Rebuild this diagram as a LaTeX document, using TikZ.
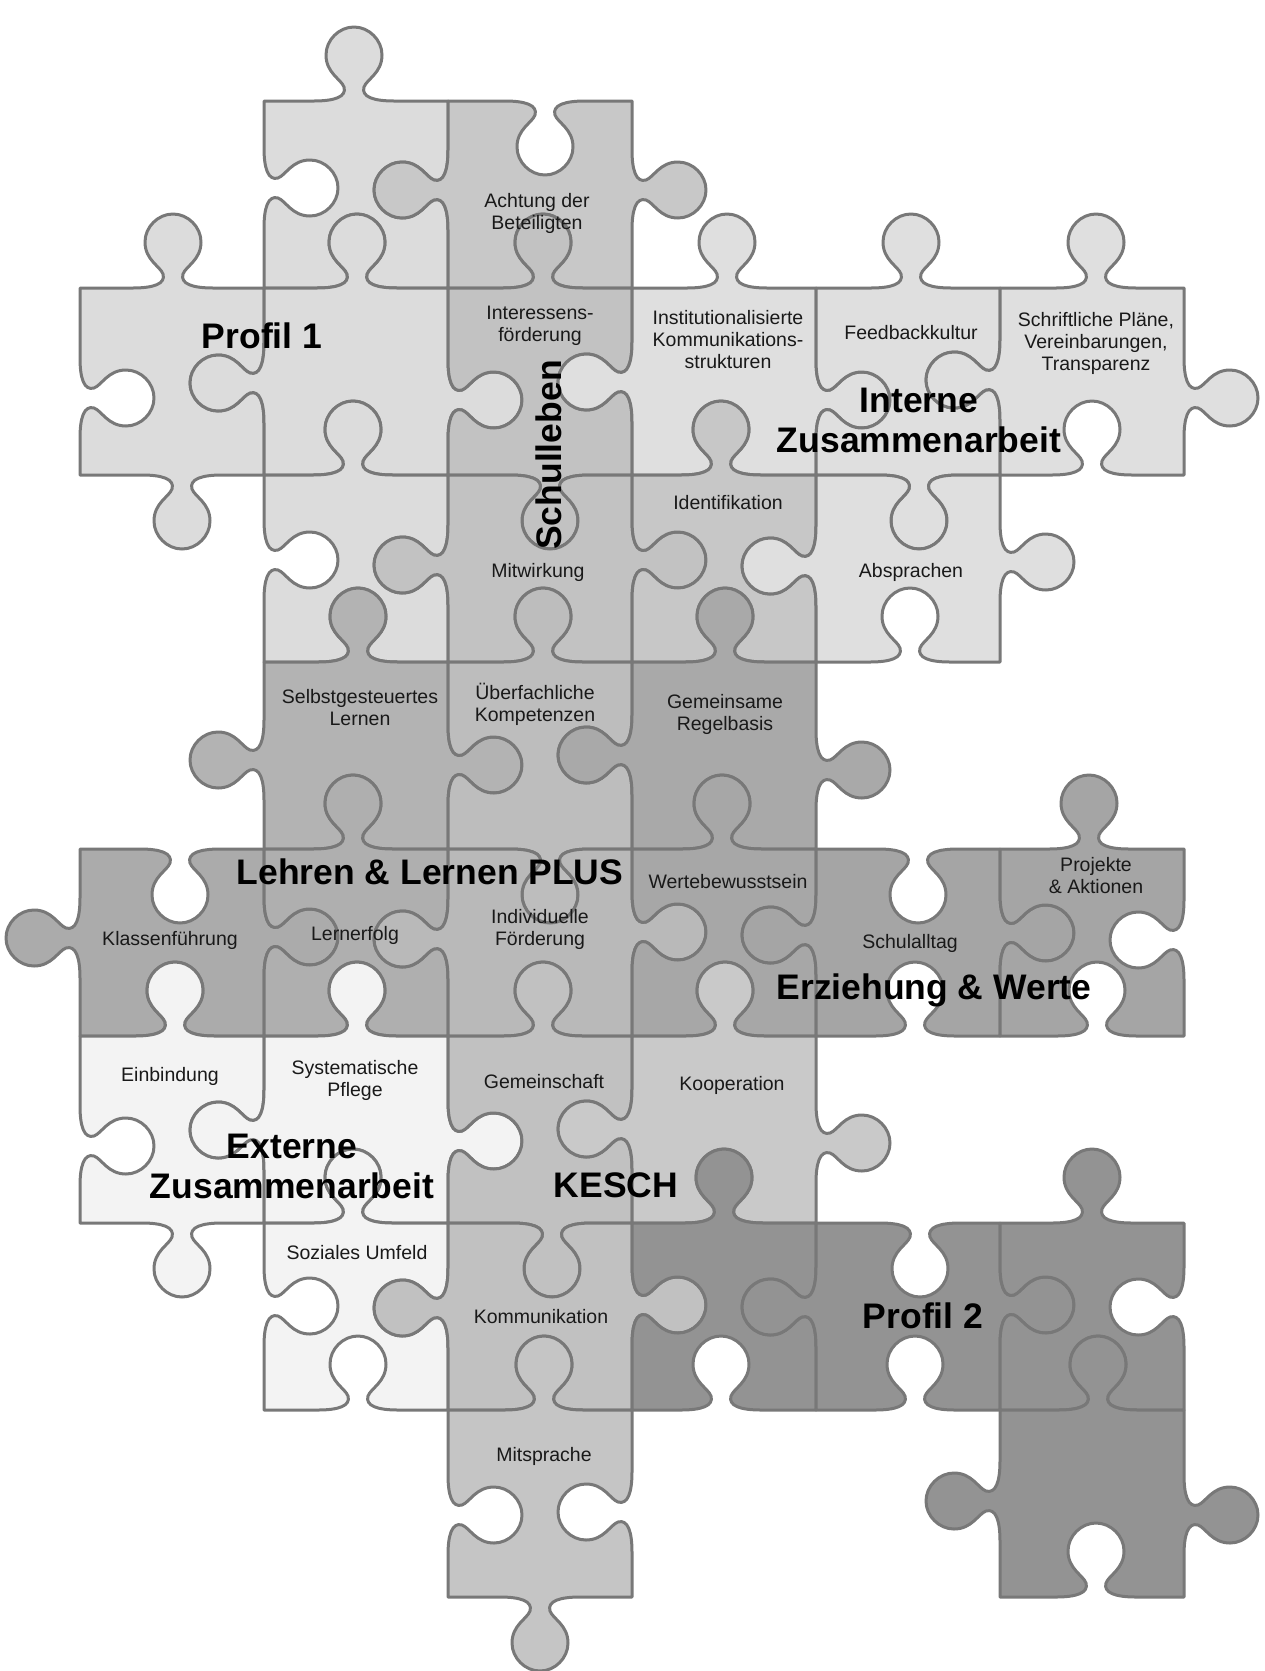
\documentclass[tikz,border=0pt]{standalone}
\usepackage{fontspec}
\setmainfont{Liberation Sans}
\definecolor{cPa}{HTML}{DCDCDC}
\definecolor{cAch}{HTML}{C8C8C8}
\definecolor{cSch}{HTML}{C2C2C2}
\definecolor{cInt}{HTML}{DFDFDF}
\definecolor{cIde}{HTML}{C7C7C7}
\definecolor{cSel}{HTML}{B3B3B3}
\definecolor{cUeb}{HTML}{BDBDBD}
\definecolor{cGem}{HTML}{A9A9A9}
\definecolor{cKla}{HTML}{ABABAB}
\definecolor{cLer}{HTML}{AFAFAF}
\definecolor{cInd}{HTML}{B9B9B9}
\definecolor{cWer}{HTML}{A7A7A7}
\definecolor{cSa}{HTML}{A5A5A5}
\definecolor{cExt}{HTML}{F3F3F3}
\definecolor{cKg}{HTML}{C1C1C1}
\definecolor{cKoo}{HTML}{C9C9C9}
\definecolor{cMit}{HTML}{C5C5C5}
\definecolor{cPb}{HTML}{939393}
\definecolor{cLine}{HTML}{787878}
% horizontal edge knob: #1 centre x, #2 edge y, #3 travel (+1 right,-1 left), #4 bump (-1 up,+1 down)
\newcommand\hTab[4]{-- ({#1-40*(#3)},{#2}) .. controls ({#1-20*(#3)},{#2}) and ({#1-7*(#3)},{#2+4*(#4)}) .. ({#1-10*(#3)},{#2+14*(#4)}) .. controls ({#1-13*(#3)},{#2+22*(#4)}) and ({#1-28*(#3)},{#2+28*(#4)}) .. ({#1-28*(#3)},{#2+46*(#4)}) .. controls ({#1-28*(#3)},{#2+61*(#4)}) and ({#1-15*(#3)},{#2+74*(#4)}) .. ({#1},{#2+74*(#4)}) .. controls ({#1+15*(#3)},{#2+74*(#4)}) and ({#1+28*(#3)},{#2+61*(#4)}) .. ({#1+28*(#3)},{#2+46*(#4)}) .. controls ({#1+28*(#3)},{#2+28*(#4)}) and ({#1+13*(#3)},{#2+22*(#4)}) .. ({#1+10*(#3)},{#2+14*(#4)}) .. controls ({#1+7*(#3)},{#2+4*(#4)}) and ({#1+20*(#3)},{#2}) .. ({#1+40*(#3)},{#2}) }
% vertical edge knob: #1 centre y, #2 edge x, #3 travel (+1 down,-1 up), #4 bump (+1 right,-1 left)
\newcommand\vTab[4]{-- ({#2},{#1-40*(#3)}) .. controls ({#2},{#1-20*(#3)}) and ({#2+4*(#4)},{#1-7*(#3)}) .. ({#2+14*(#4)},{#1-10*(#3)}) .. controls ({#2+22*(#4)},{#1-13*(#3)}) and ({#2+28*(#4)},{#1-28*(#3)}) .. ({#2+46*(#4)},{#1-28*(#3)}) .. controls ({#2+61*(#4)},{#1-28*(#3)}) and ({#2+74*(#4)},{#1-15*(#3)}) .. ({#2+74*(#4)},{#1}) .. controls ({#2+74*(#4)},{#1+15*(#3)}) and ({#2+61*(#4)},{#1+28*(#3)}) .. ({#2+46*(#4)},{#1+28*(#3)}) .. controls ({#2+28*(#4)},{#1+28*(#3)}) and ({#2+22*(#4)},{#1+13*(#3)}) .. ({#2+14*(#4)},{#1+10*(#3)}) .. controls ({#2+4*(#4)},{#1+7*(#3)}) and ({#2},{#1+20*(#3)}) .. ({#2},{#1+40*(#3)}) }
\newcommand\pzT{0}\newcommand\pzB{0}\newcommand\pzL{0}\newcommand\pzR{0}
\newcommand\tT[2]{\hTab{#1}{\pzT}{1}{#2}}
\newcommand\tR[2]{\vTab{#1}{\pzR}{1}{#2}}
\newcommand\tB[2]{\hTab{#1}{\pzB}{-1}{#2}}
\newcommand\tL[2]{\vTab{#1}{\pzL}{-1}{#2}}
% piece: fill, xl, yt, xr, yb, top, right, bottom, left
\newcommand\pz[9]{\def\pzL{#2}\def\pzT{#3}\def\pzR{#4}\def\pzB{#5}%
  \filldraw[pc,fill=#1] (#2,#3) #6 -- (#4,#3) #7 -- (#4,#5) #8 -- (#2,#5) #9 -- cycle;}
\begin{document}
\begin{tikzpicture}[x=1pt,y=-1pt,
  pc/.style={draw=cLine,line width=3pt,line join=round},
  lab/.style={font=\fontsize{19.5}{22}\selectfont,align=center,text=black!90,inner sep=0pt},
  big/.style={font=\bfseries\fontsize{35.5}{40}\selectfont,align=center,text=black,inner sep=0pt}]
\useasboundingbox (0,0) rectangle (1264,1671);
% row 0
\pz{cPa}{264}{101}{448}{288}{\tT{354}{-1}}{\tR{190}{-1}}{\tB{357}{-1}}{\tL{188}{1}}
\pz{cAch}{448}{101}{632}{288}{\tT{545}{1}}{\tR{190}{1}}{\tB{543}{-1}}{\tL{190}{-1}}
% row 1
\pz{cPa}{80}{288}{264}{475}{\tT{173}{-1}}{\tR{383}{-1}}{\tB{182}{1}}{\tL{398}{1}}
\pz{cPa}{264}{288}{448}{475}{\tT{357}{-1}}{\tR{400}{1}}{\tB{353}{-1}}{\tL{383}{-1}}
\pz{cSch}{448}{288}{632}{475}{\tT{543}{-1}}{\tR{382}{-1}}{\tB{550}{1}}{\tL{400}{1}}
\pz{cInt}{632}{288}{816}{475}{\tT{727}{-1}}{\tR{400}{1}}{\tB{721}{-1}}{\tL{382}{-1}}
\pz{cInt}{816}{288}{1000}{475}{\tT{911}{-1}}{\tR{380}{-1}}{\tB{919}{1}}{\tL{400}{1}}
\pz{cInt}{1000}{288}{1184}{475}{\tT{1096}{-1}}{\tR{398}{1}}{\tB{1092}{-1}}{\tL{380}{-1}}
% row 2
\pz{cPa}{264}{475}{448}{662}{\tT{353}{-1}}{\tR{565}{-1}}{\tB{358}{-1}}{\tL{560}{1}}
\pz{cSch}{448}{475}{632}{662}{\tT{550}{1}}{\tR{560}{1}}{\tB{543}{-1}}{\tL{565}{-1}}
\pz{cIde}{632}{475}{816}{662}{\tT{721}{-1}}{\tR{566}{-1}}{\tB{725}{-1}}{\tL{560}{1}}
\pz{cInt}{816}{475}{1000}{662}{\tT{919}{1}}{\tR{562}{1}}{\tB{910}{-1}}{\tL{566}{-1}}
% row 3
\pz{cSel}{264}{662}{448}{849}{\tT{358}{-1}}{\tR{765}{1}}{\tB{353}{-1}}{\tL{760}{-1}}
\pz{cUeb}{448}{662}{632}{849}{\tT{543}{-1}}{\tR{755}{-1}}{\tB{550}{1}}{\tL{765}{1}}
\pz{cGem}{632}{662}{816}{849}{\tT{725}{-1}}{\tR{770}{1}}{\tB{722}{-1}}{\tL{755}{-1}}
% row 4
\pz{cKla}{80}{849}{264}{1036}{\tT{180}{1}}{\tR{937}{1}}{\tB{175}{-1}}{\tL{938}{-1}}
\pz{cLer}{264}{849}{448}{1036}{\tT{353}{-1}}{\tR{939}{-1}}{\tB{357}{-1}}{\tL{937}{1}}
\pz{cInd}{448}{849}{632}{1036}{\tT{550}{1}}{\tR{932}{1}}{\tB{543}{-1}}{\tL{939}{-1}}
\pz{cWer}{632}{849}{816}{1036}{\tT{722}{-1}}{\tR{935}{-1}}{\tB{725}{-1}}{\tL{932}{1}}
\pz{cSa}{816}{849}{1000}{1036}{\tT{918}{1}}{\tR{933}{1}}{\tB{915}{-1}}{\tL{935}{-1}}
\pz{cSa}{1000}{849}{1184}{1036}{\tT{1089}{-1}}{\tR{940}{-1}}{\tB{1097}{-1}}{\tL{933}{1}}
% row 5
\pz{cExt}{80}{1036}{264}{1223}{\tT{175}{-1}}{\tR{1130}{-1}}{\tB{182}{1}}{\tL{1146}{1}}
\pz{cExt}{264}{1036}{448}{1223}{\tT{357}{-1}}{\tR{1141}{1}}{\tB{353}{-1}}{\tL{1130}{-1}}
\pz{cKg}{448}{1036}{632}{1223}{\tT{543}{-1}}{\tR{1129}{-1}}{\tB{552}{1}}{\tL{1141}{1}}
\pz{cKoo}{632}{1036}{816}{1223}{\tT{725}{-1}}{\tR{1143}{1}}{\tB{724}{-1}}{\tL{1129}{-1}}
% row 6
\pz{cExt}{264}{1223}{448}{1410}{\tT{353}{-1}}{\tR{1308}{-1}}{\tB{358}{-1}}{\tL{1306}{1}}
\pz{cKg}{448}{1223}{632}{1410}{\tT{552}{1}}{\tR{1305}{1}}{\tB{544}{-1}}{\tL{1308}{-1}}
\pz{cPb}{632}{1223}{816}{1410}{\tT{724}{-1}}{\tR{1307}{-1}}{\tB{721}{-1}}{\tL{1305}{1}}
\pz{cPb}{816}{1223}{1000}{1410}{\tT{920}{1}}{\tR{1305}{1}}{\tB{915}{-1}}{\tL{1307}{-1}}
\pz{cPb}{1000}{1223}{1184}{1410}{\tT{1092}{-1}}{\tR{1307}{-1}}{\tB{1098}{-1}}{\tL{1305}{1}}
% row 7
\pz{cMit}{448}{1410}{632}{1597}{\tT{544}{-1}}{\tR{1512}{-1}}{\tB{540}{1}}{\tL{1515}{1}}
\pz{cPb}{1000}{1410}{1184}{1597}{\tT{1098}{-1}}{\tR{1515}{1}}{\tB{1096}{-1}}{\tL{1501}{-1}}
% labels
\node[lab] (achtung) at (537,213) {Achtung der\\Beteiligten};
\node[lab] (interessen) at (540,326) {Interessens-\\förderung};
\node[lab] (institut) at (728,340) {Institutionalisierte\\Kommunikations-\\strukturen};
\node[lab] (feedback) at (911,333) {Feedbackkultur};
\node[lab] (schrift) at (1096,343) {Schriftliche Pläne,\\Vereinbarungen,\\Transparenz};
\node[lab] (ident) at (728,503) {Identifikation};
\node[lab] (mitwirk) at (538,572) {Mitwirkung};
\node[lab] (absprach) at (911,572) {Absprachen};
\node[lab] (selbst) at (360,708) {Selbstgesteuertes\\Lernen};
\node[lab] (ueberf) at (535,704) {Überfachliche\\Kompetenzen};
\node[lab] (regel) at (725,714) {Gemeinsame\\Regelbasis};
\node[lab] (werteb) at (728,882) {Wertebewusstsein};
\node[lab] (projekte) at (1096,876) {Projekte\\\& Aktionen};
\node[lab] (klassen) at (170,940) {Klassenführung};
\node[lab] (lernerf) at (355,935) {Lernerfolg};
\node[lab] (indiv) at (540,929) {Individuelle\\Förderung};
\node[lab] (schulall) at (910,943) {Schulalltag};
\node[lab] (einbind) at (170,1076) {Einbindung};
\node[lab] (system) at (355,1080) {Systematische\\Pflege};
\node[lab] (gemeinsch) at (544,1082) {Gemeinschaft};
\node[lab] (koop) at (732,1085) {Kooperation};
\node[lab] (sozial) at (357,1253) {Soziales Umfeld};
\node[lab] (kommun) at (541,1317) {Kommunikation};
\node[lab] (mitspr) at (544,1456) {Mitsprache};
\node[big] (profila) at (262,336) {Profil 1};
\node[big,rotate=90] (schulleben) at (549,455) {Schulleben};
\node[big] (interne) at (919,420) {Interne\\Zusammenarbeit};
\node[big] (lehren) at (430,872) {Lehren \& Lernen PLUS};
\node[big] (erziehung) at (934,990) {Erziehung \& Werte};
\node[big] (externe) at (292,1166) {Externe\\Zusammenarbeit};
\node[big] (kesch) at (616,1185) {KESCH};
\node[big] (profilb) at (923,1316) {Profil 2};
\end{tikzpicture}
\end{document}
